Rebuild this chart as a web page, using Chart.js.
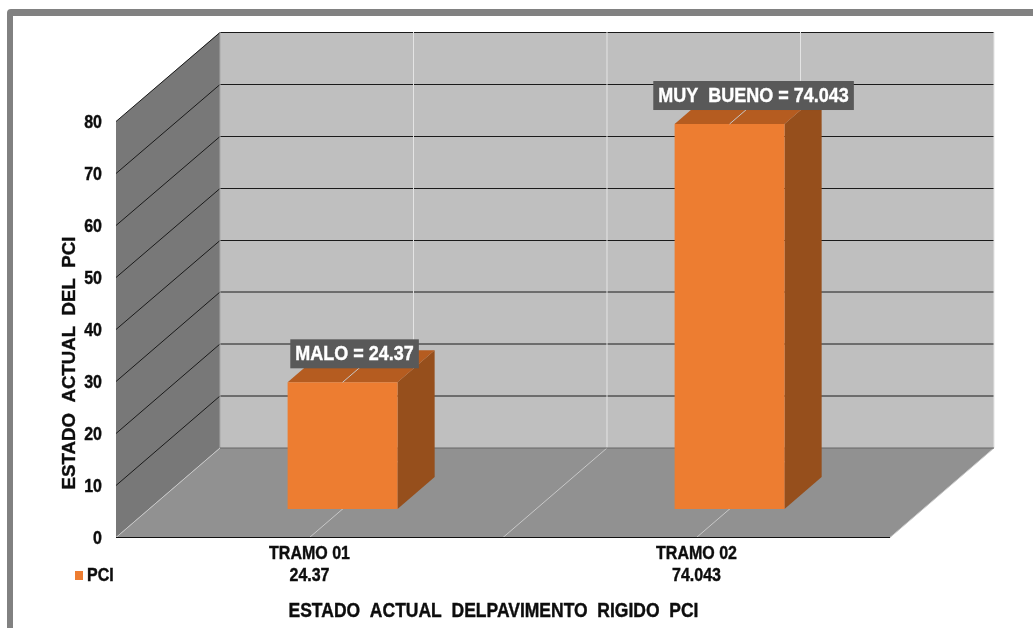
<!DOCTYPE html>
<html lang="es">
<head>
<meta charset="utf-8">
<title>Estado actual del pavimento rigido PCI</title>
<script src="https://cdn.jsdelivr.net/npm/chart.js@4"></script>
<style>
    html, body { margin: 0; height: 100%; background: #fff; overflow: hidden; }
    .marco {
        position: absolute; left: 7px; top: 9px; width: 1100px; height: 700px;
        border: 6px solid #818181; border-top-width: 7px; border-radius: 4px;
    }
    #pciChart { position: absolute; left: 0; top: 0; }
</style>
</head>
<body>
<div class="marco"></div>
<canvas id="pciChart" width="1033" height="628"></canvas>
<script>
const categories = ['TRAMO 01', 'TRAMO 02'];
const pciValues = [24.37, 74.043];
const stateNames = ['MALO', 'MUY  BUENO'];
const seriesName = 'PCI';
const yAxisTitle = 'ESTADO  ACTUAL  DEL  PCI';
const xAxisTitle = 'ESTADO  ACTUAL  DELPAVIMENTO  RIGIDO  PCI';
const yTickValues = [0, 10, 20, 30, 40, 50, 60, 70, 80];

// Fake 3D box: the plot area is the front plane, depth runs up and to the right
const DEPTH_X = 104;
const DEPTH_Y = 89.5;
const BAR_Z_FRONT = 0.318;
const BAR_Z_BACK = 0.675;
const LABEL_SHIFT_X = [12, 24];

const FONT = '"Liberation Sans", Arial, sans-serif';
const INK = '#0d0d0d';

function polygon(ctx, points, fill) {
    ctx.beginPath();
    points.forEach(([x, y], i) => (i ? ctx.lineTo(x, y) : ctx.moveTo(x, y)));
    ctx.closePath();
    ctx.fillStyle = fill;
    ctx.fill();
}

function segment(ctx, x1, y1, x2, y2, color, width = 1) {
    ctx.beginPath();
    ctx.moveTo(x1, y1);
    ctx.lineTo(x2, y2);
    ctx.strokeStyle = color;
    ctx.lineWidth = width;
    ctx.stroke();
}

// All the text in this chart is a bit taller and heavier than the font's natural shape
function tallText(ctx, text, x, y, size, stretch, color, align = 'center') {
    ctx.save();
    ctx.translate(x, y);
    ctx.scale(1, stretch);
    ctx.font = `bold ${size}px ${FONT}`;
    ctx.textAlign = align;
    ctx.textBaseline = 'middle';
    ctx.fillStyle = color;
    ctx.strokeStyle = color;
    ctx.lineWidth = 0.35;
    ctx.strokeText(text, 0, 0);
    ctx.fillText(text, 0, 0);
    ctx.restore();
}

// Walls, floor and grid, all taken from the scales
const wallsPlugin = {
    id: 'walls',
    beforeDatasetsDraw(chart) {
        const { ctx, scales: { x, y } } = chart;
        const left = x.left, right = x.right, bottom = y.getPixelForValue(0), top = y.getPixelForValue(80);
        const bx = DEPTH_X, by = DEPTH_Y;
        ctx.save();
        polygon(ctx, [[left + bx, top - by], [right + bx, top - by], [right + bx, bottom - by], [left + bx, bottom - by]], '#bfbfbf');
        polygon(ctx, [[left, bottom], [left + bx, bottom - by], [left + bx, top - by], [left, top]], '#787878');
        polygon(ctx, [[left, bottom], [right, bottom], [right + bx, bottom - by], [left + bx, bottom - by]], '#919191');

        yTickValues.slice(1).forEach(v => {
            const py = y.getPixelForValue(v);
            // the upper lines land on a pixel row, the lower ones spread over two
            const backY = v >= 40 ? py - by + 0.5 : py - by;
            segment(ctx, left, py, left + bx, backY, '#1a1a1a');
            segment(ctx, left + bx, backY, right + bx, backY, '#1a1a1a');
        });

        // category separators: vertical on the back wall, diagonal on the floor
        const edges = [left, (left + right) / 2, right];
        const mids = categories.map((c, i) => x.getPixelForValue(i));
        [...edges, ...mids].forEach(px => {
            segment(ctx, px, bottom, px + bx, bottom - by, '#c8c8c8');
        });
        [...mids, (left + right) / 2].forEach(px => {
            segment(ctx, px + bx, top - by, px + bx, bottom - by, '#e4e4e4');
        });
        segment(ctx, right + bx, top - by, right + bx, bottom - by, '#e4e4e4');
        segment(ctx, left + bx, top - by, left + bx, bottom - by, '#a8a8a8');
        segment(ctx, left + bx, bottom - by, right + bx, bottom - by, '#666');
        segment(ctx, left, bottom, right, bottom, '#111', 1.2);
        ctx.restore();
    }
};

// Side and top faces go first, then the library's own bar is painted shifted to the bar's depth
const boxBarsPlugin = {
    id: 'boxBars',
    beforeDatasetDraw(chart, args) {
        const { ctx } = chart;
        const meta = chart.getDatasetMeta(args.index);
        const sx = DEPTH_X * BAR_Z_FRONT, sy = DEPTH_Y * BAR_Z_FRONT;
        const dx = DEPTH_X * (BAR_Z_BACK - BAR_Z_FRONT), dy = DEPTH_Y * (BAR_Z_BACK - BAR_Z_FRONT);
        ctx.save();
        ctx.translate(sx, -sy);
        meta.data.forEach(bar => {
            const l = bar.x - bar.width / 2, r = bar.x + bar.width / 2;
            polygon(ctx, [[r, bar.base], [r + dx, bar.base - dy], [r + dx, bar.y - dy], [r, bar.y]], '#964f1c');
            polygon(ctx, [[l, bar.y], [r, bar.y], [r + dx, bar.y - dy], [l + dx, bar.y - dy]], '#b55c20');
        });
    },
    afterDatasetDraw(chart) {
        chart.ctx.restore();
    },
    afterDatasetsDraw(chart) {
        const { ctx, scales: { x, y } } = chart;
        const meta = chart.getDatasetMeta(0);
        const sx = DEPTH_X * BAR_Z_FRONT, sy = DEPTH_Y * BAR_Z_FRONT;
        const dx = DEPTH_X * (BAR_Z_BACK - BAR_Z_FRONT), dy = DEPTH_Y * (BAR_Z_BACK - BAR_Z_FRONT);
        ctx.save();
        meta.data.forEach((bar, i) => {
            const fx = bar.x + sx, fy = bar.y - sy;
            segment(ctx, fx, fy, fx + dx, fy - dy, '#c8c8c8');

            // value label box over the top of the bar
            const text = `${stateNames[i]} = ${pciValues[i]}`;
            ctx.font = `bold 18px ${FONT}`;
            const w = ctx.measureText(text).width + 10;
            const cx = fx + LABEL_SHIFT_X[i], cy = fy - 28.5;
            ctx.fillStyle = '#595959';
            ctx.fillRect(cx - w / 2, cy - 14.5, w, 29);
            tallText(ctx, text, cx, cy + 1, 18, 1.12, '#fff');
        });

        // tick labels and data table rows below the plot
        y.ticks.forEach(t => {
            tallText(ctx, String(t.value), y.right - 14, y.getPixelForValue(t.value) + 1, 16, 1.2, INK, 'right');
        });
        categories.forEach((c, i) => {
            const px = x.getPixelForValue(i);
            tallText(ctx, c, px, 553.5, 16, 1.2, INK);
            tallText(ctx, String(pciValues[i]), px, 575.5, 16, 1.2, INK);
        });

        // axis titles sit off the axis centre, so they are placed by hand
        tallText(ctx, xAxisTitle, 493.5, 611, 17.5, 1.15, INK);
        ctx.save();
        ctx.translate(70, 363);
        ctx.rotate(-Math.PI / 2);
        tallText(ctx, yAxisTitle, 0, 0, 18.7, 1, INK);
        ctx.restore();

        // legend key of the data table
        ctx.fillStyle = '#ed7d31';
        ctx.fillRect(75, 571, 8, 9);
        tallText(ctx, seriesName, 87, 575.5, 16, 1.2, INK, 'left');
        ctx.restore();
    }
};

new Chart(document.getElementById('pciChart'), {
    type: 'bar',
    data: {
        labels: categories,
        datasets: [{
            label: seriesName,
            data: pciValues,
            backgroundColor: '#ed7d31',
            borderWidth: 0,
            categoryPercentage: 1,
            barPercentage: 0.284,
            clip: false
        }]
    },
    options: {
        responsive: false,
        animation: false,
        layout: { padding: { left: 0, right: 143, top: 121.5, bottom: 0 } },
        plugins: { legend: { display: false }, tooltip: { enabled: false } },
        scales: {
            x: {
                grid: { display: false },
                border: { display: false },
                ticks: { display: false },
                afterFit(scale) { scale.height = 90.5; }
            },
            y: {
                min: 0,
                max: 80,
                grid: { display: false },
                border: { display: false },
                ticks: { display: false, stepSize: 10 },
                afterFit(scale) { scale.width = 116; }
            }
        }
    },
    plugins: [wallsPlugin, boxBarsPlugin]
});
</script>
</body>
</html>
